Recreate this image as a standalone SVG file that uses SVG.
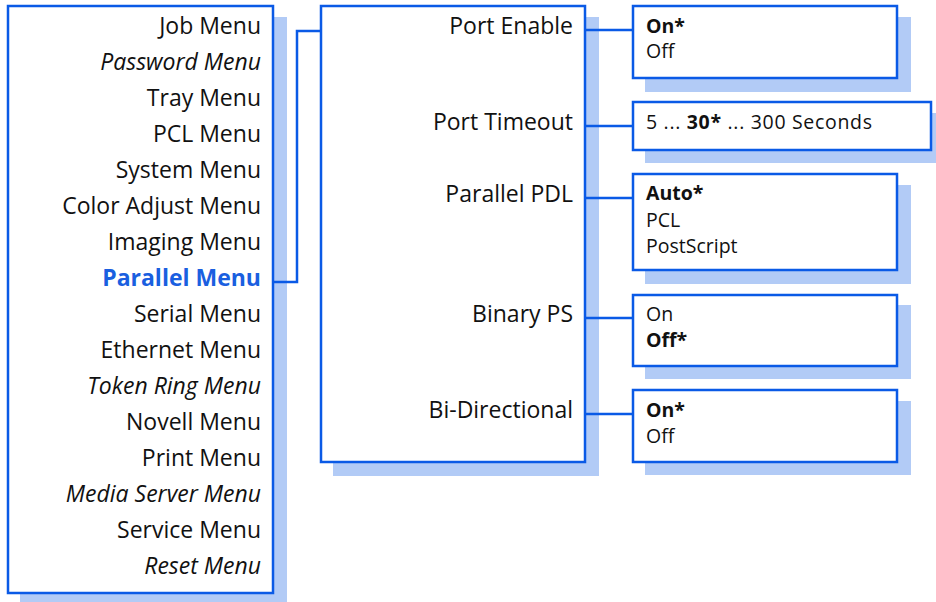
<svg xmlns="http://www.w3.org/2000/svg" width="936" height="602" viewBox="0 0 936 602">
<style>
.box{fill:#fff;stroke:#0a5ae6;stroke-width:2.5}
.sh{fill:#b2cbf6}
.ln{fill:none;stroke:#0a5ae6;stroke-width:2.5}
.m{font-family:"Open Sans","Noto Sans",sans-serif;font-size:23px;fill:#111;text-anchor:end}
.i{font-style:italic}
.o{font-family:"Open Sans","Noto Sans",sans-serif;font-size:19.5px;fill:#111}
.b{font-weight:bold}
.sel{fill:#1a5fe0;font-weight:bold}
</style>
<g id="main-menu">
<rect class="sh" x="20" y="17" width="267" height="586"/>
<rect class="box" x="8" y="6" width="265" height="587"/>
<text class="m" x="261" y="34">Job Menu</text>
<text class="m i" x="261" y="70">Password Menu</text>
<text class="m" x="261" y="106">Tray Menu</text>
<text class="m" x="261" y="142">PCL Menu</text>
<text class="m" x="261" y="178">System Menu</text>
<text class="m" x="261" y="214">Color Adjust Menu</text>
<text class="m" x="261" y="250">Imaging Menu</text>
<text class="m sel" x="261" y="286">Parallel Menu</text>
<text class="m" x="261" y="322">Serial Menu</text>
<text class="m" x="261" y="358">Ethernet Menu</text>
<text class="m i" x="261" y="394">Token Ring Menu</text>
<text class="m" x="261" y="430">Novell Menu</text>
<text class="m" x="261" y="466">Print Menu</text>
<text class="m i" x="261" y="502">Media Server Menu</text>
<text class="m" x="261" y="538">Service Menu</text>
<text class="m i" x="261" y="574">Reset Menu</text>
</g>
<g id="parallel-menu">
<rect class="sh" x="333" y="17" width="266" height="459"/>
<rect class="box" x="321" y="6" width="264" height="456"/>
<text class="m" x="573" y="34">Port Enable</text>
<text class="m" x="573" y="130">Port Timeout</text>
<text class="m" x="573" y="202">Parallel PDL</text>
<text class="m" x="573" y="322">Binary PS</text>
<text class="m" x="573" y="418">Bi-Directional</text>
</g>
<g id="port-enable-opts">
<rect class="sh" x="645" y="17" width="266" height="75"/>
<rect class="box" x="633" y="6" width="264" height="72"/>
<text class="o b" x="646" y="33">On*</text>
<text class="o" x="646" y="58">Off</text>
</g>
<g id="port-timeout-opts">
<rect class="sh" x="645" y="113" width="291" height="50"/>
<rect class="box" x="633" y="102" width="298" height="48"/>
<text class="o" x="646" y="129" textLength="226" lengthAdjust="spacing">5 ... <tspan class="b">30*</tspan> ... 300 Seconds</text>
</g>
<g id="parallel-pdl-opts">
<rect class="sh" x="645" y="185" width="266" height="99"/>
<rect class="box" x="633" y="174" width="264" height="96"/>
<text class="o b" x="646" y="200">Auto*</text>
<text class="o" x="646" y="227">PCL</text>
<text class="o" x="646" y="253">PostScript</text>
</g>
<g id="binary-ps-opts">
<rect class="sh" x="645" y="305" width="266" height="74"/>
<rect class="box" x="633" y="295" width="264" height="71"/>
<text class="o" x="646" y="321">On</text>
<text class="o b" x="646" y="347">Off*</text>
</g>
<g id="bidirectional-opts">
<rect class="sh" x="645" y="401" width="266" height="74"/>
<rect class="box" x="633" y="390" width="264" height="72"/>
<text class="o b" x="646" y="417">On*</text>
<text class="o" x="646" y="443">Off</text>
</g>
<g id="connectors">
<polyline class="ln" points="273,282 297,282 297,31 321,31"/>
<line class="ln" x1="585" y1="30" x2="633" y2="30"/>
<line class="ln" x1="585" y1="126" x2="633" y2="126"/>
<line class="ln" x1="585" y1="198" x2="633" y2="198"/>
<line class="ln" x1="585" y1="318" x2="633" y2="318"/>
<line class="ln" x1="585" y1="414" x2="633" y2="414"/>
</g>
</svg>
